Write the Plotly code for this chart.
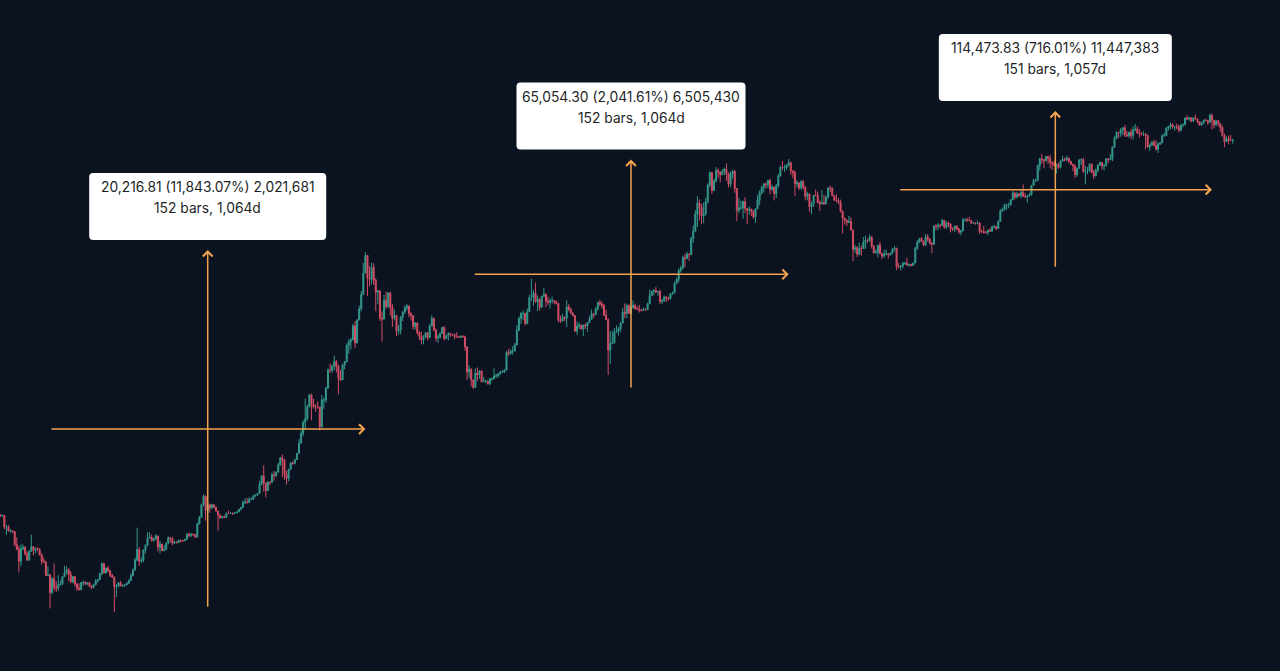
import numpy as np
import pandas as pd
import plotly.graph_objects as go

# Weekly BTC/USD bars, one row per week (Monday open): (close, high, low).
# Each week opens at the previous week's close.
FIRST_WEEK = "2014-07-28"
FIRST_OPEN = 594

BTC_2014 = [
    (587, 600, 575), (590, 595, 578), (505, 592, 490), (506, 520, 455), (478, 518, 475),
    (480, 490, 465), (475, 484, 465), (400, 476, 390), (375, 440, 370), (320, 390, 275),
    (378, 400, 300), (385, 400, 370), (353, 392, 345), (325, 365, 320),
    (365, 370, 320), (388, 455, 362), (370, 390, 345), (378, 385, 355),
    (375, 385, 365), (348, 380, 345), (320, 355, 305), (315, 335, 312), (264, 322, 262),
]
BTC_2015 = [
    (266, 298, 262), (210, 270, 170), (253, 258, 205), (226, 310, 215),
    (223, 245, 212), (234, 265, 215), (235, 248, 230), (260, 262, 234),
    (274, 300, 260), (285, 298, 268), (268, 291, 245), (242, 280, 238), (260, 262, 238),
    (236, 262, 228), (223, 238, 215), (219, 238, 216), (240, 242, 216),
    (240, 247, 230), (236, 245, 232), (240, 242, 232), (230, 241, 225),
    (225, 232, 220), (233, 236, 222), (244, 252, 233), (250, 252, 240), (270, 275, 250),
    (310, 315, 265), (274, 295, 270), (292, 293, 270), (281, 298, 276),
    (265, 285, 258), (258, 270, 255), (228, 260, 162), (229, 235, 198), (240, 242, 225),
    (230, 245, 228), (231, 235, 226), (233, 236, 226), (238, 241, 234),
    (247, 251, 236), (263, 272, 246), (284, 290, 262), (325, 335, 283),
    (374, 500, 320), (320, 385, 300), (323, 335, 312), (370, 375, 315), (395, 400, 355),
    (434, 470, 390), (440, 470, 435), (422, 455, 415), (430, 438, 415),
]
BTC_2016 = [
    (448, 460, 425), (385, 450, 365), (402, 420, 355), (368, 400, 365),
    (375, 395, 365), (407, 410, 370), (437, 445, 400), (432, 440, 410), (406, 440, 395),
    (413, 420, 402), (410, 418, 405), (424, 425, 408), (420, 425, 412),
    (420, 425, 415), (427, 432, 418), (458, 465, 425), (450, 468, 440),
    (459, 465, 442), (457, 461, 448), (441, 458, 436), (525, 535, 440), (575, 585, 525),
    (680, 690, 570), (760, 780, 665), (630, 770, 550), (680, 705, 610),
    (650, 690, 610), (680, 685, 645), (660, 680, 648), (625, 660, 620),
    (590, 625, 480), (570, 598, 565), (580, 585, 565), (573, 590, 570), (606, 612, 568),
    (605, 630, 598), (608, 612, 603), (603, 610, 593), (610, 612, 600),
    (617, 620, 607), (640, 643, 615), (655, 660, 630), (700, 720, 650), (705, 740, 685),
    (700, 745, 690), (730, 755, 700), (730, 745, 725), (765, 775, 725),
    (775, 778, 755), (790, 795, 765), (895, 935, 790), (1000, 1005, 880),
]
BTC_2017 = [
    (908, 1150, 810), (820, 910, 750), (920, 930, 820), (915, 925, 880), (1015, 1045, 910),
    (1000, 1065, 935), (1050, 1060, 985), (1155, 1190, 1050), (1270, 1290, 1150),
    (1230, 1330, 980), (1020, 1255, 950), (965, 1070, 890), (1090, 1100, 930),
    (1190, 1200, 1080), (1180, 1210, 1160), (1240, 1255, 1165), (1350, 1355, 1235),
    (1550, 1630, 1345), (1760, 1830, 1540), (2040, 2100, 1700), (2150, 2800, 1850), (2510, 2580, 2080),
    (2950, 2980, 2500), (2600, 3000, 2100), (2500, 2800, 2450), (2500, 2600, 2350),
    (2500, 2700, 2450), (1920, 2520, 1830), (2750, 2950, 1950), (2750, 2850, 2450), (3230, 3290, 2650),
    (4100, 4200, 3200), (4080, 4480, 3950), (4350, 4400, 3950), (4600, 4980, 4100),
    (4300, 4700, 3980), (3700, 4400, 2970), (3600, 4100, 3550), (4400, 4420, 3800),
    (4600, 4630, 4150), (5700, 5850, 4550), (6000, 6200, 5100), (6150, 6300, 5400), (7400, 7600, 6100),
    (5900, 7900, 5500), (8000, 8100, 5850), (9300, 9700, 8000), (11250, 11800, 9000),
    (15000, 17200, 11200), (19000, 19800, 15000), (14000, 19000, 11000), (13800, 16500, 12500),
]
BTC_2018 = [
    (16200, 17250, 12900), (13600, 17100, 12800), (11600, 14000, 9000), (11800, 12000, 9900), (8200, 11900, 7900),
    (8100, 9000, 6000), (10400, 11200, 8100), (9600, 11700, 9300), (11500, 11600, 9400),
    (9500, 11700, 8500), (8200, 9900, 7300), (8500, 9200, 8000), (6900, 8600, 6450),
    (7000, 7500, 6600), (8350, 8450, 6600), (8900, 9000, 7900), (9400, 9750, 8700), (9650, 9950, 9100),
    (8700, 9700, 8300), (8500, 8900, 7950), (7350, 8550, 7050), (7700, 7800, 7050),
    (6750, 7750, 6600), (6450, 6900, 6150), (6150, 6850, 5780), (6350, 6550, 5800),
    (6750, 6850, 6300), (6350, 6800, 6100), (7400, 7600, 6300), (8200, 8500, 7400), (7000, 8200, 6900),
    (6300, 7150, 6000), (6400, 6600, 5900), (6700, 6800, 6250), (7250, 7300, 6700),
    (6250, 7400, 6100), (6500, 6550, 6200), (6700, 6800, 6100), (6600, 6700, 6400),
    (6550, 6650, 6500), (6400, 6700, 6200), (6400, 6800, 6350), (6350, 6500, 6300), (6450, 6500, 6300),
    (6400, 6550, 6350), (5600, 6500, 5300), (4000, 5600, 3600), (4150, 4400, 3700),
    (3600, 4200, 3300), (3250, 3600, 3190), (3950, 4200, 3250), (3850, 4250, 3550),
]
BTC_2019 = [
    (4050, 4100, 3650),
    (3510, 4100, 3480), (3550, 3750, 3500), (3550, 3620, 3450), (3420, 3550, 3380),
    (3650, 3700, 3350), (3650, 3700, 3550), (3800, 4200, 3650), (3800, 3900, 3700),
    (3900, 3950, 3700), (4000, 4050, 3850), (4000, 4100, 3950), (4100, 4150, 3950),
    (5200, 5300, 4100), (5100, 5450, 4950), (5300, 5400, 5050), (5300, 5650, 5050), (5750, 5900, 5250),
    (7000, 7500, 5700), (8200, 8400, 6900), (8750, 8900, 7600), (8750, 9100, 8000),
    (7650, 8800, 7450), (8950, 9350, 7550), (10800, 11200, 8950), (10800, 13900, 10300),
    (11450, 12000, 9700), (10200, 13200, 10100), (10600, 11100, 9050), (9500, 10650, 9100), (11000, 11100, 9450),
    (11300, 12300, 10900), (10300, 11450, 9500), (10150, 10950, 9800), (10400, 10650, 9350),
    (10400, 10950, 10000), (10300, 10450, 9900), (10000, 10300, 9850), (8050, 10050, 7750), (7900, 8500, 7700),
    (8300, 8700, 7850), (8200, 8400, 7900), (9550, 10400, 7300), (9200, 9900, 9000),
    (8800, 9450, 8650), (8500, 8850, 8400), (6900, 8500, 6850), (7400, 7850, 6550),
    (7500, 7750, 7100), (7100, 7450, 7050), (7500, 7500, 6450), (7400, 7650, 7100),
]
BTC_2020 = [
    (7750, 7800, 6850),
    (8100, 8450, 7700), (8700, 9200, 8050), (8600, 8750, 8250), (9300, 9550, 8550),
    (10150, 10150, 9100), (9900, 10500, 9650), (9700, 10250, 9300), (8550, 9950, 8450),
    (8050, 9200, 8000), (5350, 8200, 3850), (5850, 6900, 4450), (5900, 6950, 5850), (6800, 7200, 5850),
    (6900, 7450, 6750), (7150, 7300, 6500), (7700, 7750, 6800), (8900, 9450, 7650),
    (8750, 10000, 8200), (9700, 9950, 8200), (8750, 9850, 8700), (9450, 9700, 8650),
    (9750, 10400, 9300), (9350, 9950, 9150), (9300, 9600, 9200), (9100, 9800, 8850), (9100, 9300, 8950),
    (9250, 9450, 9100), (9200, 9350, 9050), (9950, 10100, 9150), (11100, 12000, 9900),
    (11700, 11900, 11000), (11900, 12100, 11150), (11650, 12450, 11500), (11700, 11800, 11100), (10250, 12050, 9900),
    (10350, 10600, 9900), (10900, 11100, 10250), (10750, 10950, 10150), (10650, 10950, 10400),
    (11400, 11450, 10550), (11500, 11700, 11200), (13050, 13350, 11400), (13800, 14100, 12950),
    (15500, 15950, 13250), (16000, 16500, 15100), (18400, 18900, 15800), (18200, 19400, 16200), (19350, 19900, 18100),
    (19250, 19450, 17650), (23850, 24300, 19000), (26300, 28400, 22400), (33000, 34800, 26000),
]
BTC_2021 = [
    (38200, 41950, 27700), (36000, 40100, 30300), (32200, 37800, 28800), (33100, 38500, 29200),
    (38900, 41000, 32300), (48600, 49700, 38000), (57500, 58350, 47000), (45200, 57500, 43000),
    (51200, 52650, 45000), (59000, 61800, 50300), (57500, 60600, 53300), (55800, 58500, 50400), (58200, 60000, 55600),
    (60000, 61200, 55500), (56200, 64900, 51500), (49100, 57500, 47000), (56600, 58500, 47200),
    (58200, 59600, 53000), (46400, 59500, 43800), (34700, 46600, 30000), (35700, 40800, 33400), (35800, 39500, 35000),
    (39000, 39500, 31000), (35500, 41300, 33300), (34700, 35800, 28800), (35300, 36600, 32700),
    (34250, 35100, 32100), (31750, 34700, 31000), (35400, 35400, 29300), (39900, 42600, 35200),
    (43800, 45300, 37300), (47000, 48100, 42800), (49300, 49800, 43900), (48800, 50500, 46300), (51800, 51900, 46500),
    (46000, 52900, 43000), (47300, 48800, 44700), (43200, 47400, 39600), (48200, 49200, 40800),
    (54700, 56500, 46900), (61500, 62900, 54400), (61000, 67000, 59600), (61300, 63700, 58000),
    (63300, 64300, 59400), (65500, 68800, 62300), (58600, 66300, 55600), (57200, 59300, 53300), (49400, 59000, 42000),
    (50100, 51900, 47000), (46700, 50000, 45500), (50800, 51900, 45600), (47300, 52100, 45700),
]
BTC_2022 = [
    (41800, 47500, 39700), (43100, 44400, 39600), (36300, 43500, 34000), (37900, 38900, 32900), (42400, 42600, 36300),
    (42200, 45800, 41800), (38400, 44500, 38000), (37700, 39500, 34300), (38400, 45400, 37800),
    (37800, 42600, 37200), (41300, 42300, 37600), (46800, 46900, 40500), (46400, 48200, 44200),
    (42150, 47200, 41900), (39700, 42400, 39200), (39450, 42900, 38600), (38450, 40800, 37600),
    (34300, 40000, 33700), (31300, 34300, 25400), (30300, 31300, 28700), (29450, 30600, 28000), (29900, 32200, 29300),
    (26600, 31600, 26600), (20550, 26800, 17600), (21050, 21800, 19600), (19300, 21500, 18600),
    (20850, 22500, 19000), (20800, 21600, 18900), (22600, 24300, 20800), (23300, 24700, 20700),
    (23200, 23600, 22400), (24300, 25200, 22700), (21550, 24400, 20800), (19600, 21800, 19600), (19800, 20600, 19500),
    (21800, 21800, 18500), (19400, 22800, 19300), (18800, 19700, 18100), (19300, 20400, 18500),
    (19400, 20500, 19000), (19200, 19500, 18200), (19550, 19700, 18900), (20600, 21000, 19250), (20900, 21500, 20050),
    (16300, 21000, 15600), (16300, 17200, 15990), (16450, 16700, 15480), (17100, 17400, 16000),
    (17100, 17400, 16700), (16700, 18400, 16500), (16850, 17000, 16300), (16600, 16900, 16400),
]
BTC_2023 = [
    (17150, 17200, 16600), (20900, 21300, 17100), (22700, 23300, 20400), (23750, 23900, 22300), (22950, 24250, 22600),
    (21800, 23200, 21400), (24300, 25250, 21500), (23550, 25200, 22800), (22400, 23900, 21900),
    (22100, 22600, 19550), (28000, 28500, 21800), (27950, 28850, 26600), (28450, 29200, 26500),
    (28350, 28800, 27200), (30300, 31000, 28200), (27600, 30500, 27150), (29250, 30000, 26950),
    (28850, 29800, 27700), (26900, 29100, 25800), (26800, 27600, 26300), (28100, 28200, 25900), (27100, 28450, 26600),
    (25900, 27400, 25350), (26350, 26800, 24800), (30500, 31400, 26250), (30600, 31000, 29900),
    (30300, 31400, 29700), (30250, 31800, 29950), (29200, 30400, 29000), (29300, 29700, 29000), (29050, 29700, 28600),
    (29300, 30200, 28800), (26100, 29500, 25200), (26000, 26800, 25700), (25850, 28100, 25400),
    (25850, 26300, 25350), (26550, 26800, 24900), (26250, 27400, 26150), (27950, 28000, 26000),
    (27950, 28600, 27200), (27150, 28000, 26550), (29950, 30300, 27100), (34500, 35200, 29650), (35000, 35900, 33900),
    (37050, 37950, 34500), (37350, 37900, 34900), (37450, 38400, 35600), (39950, 40200, 36800),
    (43800, 45000, 39900), (41350, 43500, 40200), (43000, 44400, 40600), (42300, 43800, 41400),
]
BTC_2024 = [
    (43950, 45900, 40800), (41750, 49000, 41700), (41600, 43600, 40800), (42050, 42250, 38500), (42600, 43800, 41800),
    (48300, 48600, 42300), (51650, 52800, 48300), (51750, 52900, 50600), (63100, 64000, 50900),
    (68950, 70000, 59000), (68350, 73800, 64500), (67200, 68100, 60800), (71300, 71700, 66600),
    (69350, 71300, 64500), (65650, 72800, 60700), (64950, 66900, 59600), (63100, 67200, 62800), (64000, 64700, 56500),
    (61500, 65500, 60200), (66900, 67700, 60800), (68500, 71900, 66600), (67750, 70000, 66700),
    (69650, 71900, 68500), (66650, 70000, 65100), (64250, 67200, 63400), (62700, 63300, 58500),
    (55850, 63800, 53500), (60800, 61400, 54300), (68150, 68400, 60700), (68250, 69400, 63500), (58150, 70000, 57200),
    (58700, 62700, 49100), (58950, 61800, 56100), (64200, 65000, 57800), (57300, 64900, 57200),
    (54850, 59800, 52600), (59100, 60700, 54600), (63600, 64100, 57600), (65600, 66500, 62700), (62800, 65600, 59800),
    (62850, 64500, 58900), (69050, 69500, 62450), (68350, 69500, 65100), (68750, 73600, 67500),
    (80400, 81500, 66800), (90600, 93500, 80200), (98000, 99600, 89400), (97300, 98800, 90800),
    (101200, 104000, 92700), (104400, 105200, 94300), (95100, 108300, 92200), (93700, 99900, 92500),
]
BTC_2025 = [
    (98300, 98900, 91300),
    (94500, 102700, 89300), (101300, 106400, 89200), (102600, 109600, 99500), (97700, 106500, 96200),
    (96500, 102500, 91200), (96200, 98800, 94100), (96300, 99500, 93400), (94200, 96500, 78200),
    (80700, 95000, 80000), (82600, 84700, 76600), (86000, 87500, 82000), (82400, 88800, 81600), (78400, 88500, 77100),
    (83700, 86100, 74500), (85200, 86500, 83000), (93700, 95700, 85100), (94300, 97900, 92800),
    (104100, 104900, 93400), (106400, 106600, 100700), (109000, 111900, 102000), (105700, 110700, 103100),
    (105800, 106800, 100400), (105600, 110600, 102700), (100900, 108900, 98200), (108400, 108500, 99600), (109200, 110600, 105100),
    (119100, 119500, 107500), (117300, 123200, 115700), (119400, 120200, 114700), (114200, 119800, 112000),
    (119300, 119500, 112700), (117500, 124500, 116800), (113500, 117600, 110600), (108200, 113700, 107300),
    (111100, 113400, 107300), (115300, 116800, 110600), (115200, 117900, 114700), (112200, 115400, 108600), (123500, 125700, 111600),
    (115100, 126200, 102000), (108600, 116000, 103500), (114500, 115500, 106700), (110600, 116400, 106300),
    (104700, 110800, 98900), (94300, 107500, 93000), (86800, 96600, 80600), (90400, 93100, 86100),
    (88200, 94100, 83800), (88100, 94600, 87600), (88600, 90300, 84400),
]

# Date & price range measurements (start week, bar count, days, change, % change)
RANGE_START = ["2015-01-12", "2018-12-10", "2022-11-14"]
RANGE_BARS = [152, 152, 151]
RANGE_DAYS = [1064, 1064, 1057]
RANGE_CHANGE = [20216.81, 65054.30, 114473.83]
RANGE_PCT = [11843.07, 2041.61, 716.01]

# ---- styling ----
BG = "#0b1320"
UP = "#34988a"
DOWN = "#d24d65"
TOOL = "#f2a24e"
LABEL_TEXT = "#1c1f26"
BOX_WIDTHS = [237, 229, 233]
BOX_HEIGHT = 67
BOX_GAP = 10
X_RANGE = ["2014-07-27 08:00", "2026-05-23 10:00"]
Y_RANGE = [1.8677, 5.7599]  # log10 of price

rows = [r for year in (BTC_2014, BTC_2015, BTC_2016, BTC_2017, BTC_2018, BTC_2019, BTC_2020,
                       BTC_2021, BTC_2022, BTC_2023, BTC_2024, BTC_2025) for r in year]
close = np.array([r[0] for r in rows], dtype=float)
high = np.array([r[1] for r in rows], dtype=float)
low = np.array([r[2] for r in rows], dtype=float)
open_ = np.concatenate([[FIRST_OPEN], close[:-1]])
high = np.maximum.reduce([high, open_, close])
low = np.minimum.reduce([low, open_, close])
weeks = pd.date_range(FIRST_WEEK, periods=len(rows), freq="7D")

fig = go.Figure()
fig.add_trace(go.Candlestick(
    x=weeks, open=open_, high=high, low=low, close=close,
    increasing=dict(line=dict(color=UP, width=1), fillcolor=UP),
    decreasing=dict(line=dict(color=DOWN, width=1), fillcolor=DOWN),
    whiskerwidth=0, showlegend=False, name="BTCUSD",
))


def fmt(v, nd=2):
    return f"{v:,.{nd}f}"


def ypaper(price):
    return (np.log10(price) - Y_RANGE[0]) / (Y_RANGE[1] - Y_RANGE[0])


annotations = []
shapes = []
for i, start in enumerate(RANGE_START):
    t0 = pd.Timestamp(start)
    t1 = t0 + pd.Timedelta(days=RANGE_DAYS[i])
    tmid = t0 + pd.Timedelta(days=RANGE_DAYS[i] / 2)
    p0 = RANGE_CHANGE[i] / (RANGE_PCT[i] / 100.0)
    p1 = p0 + RANGE_CHANGE[i]
    lmid = (np.log10(p0) + np.log10(p1)) / 2

    arrow = dict(text="", showarrow=True, arrowhead=4, arrowsize=1.25, arrowwidth=1.5,
                 arrowcolor=TOOL, axref="x", ayref="y", xref="x", yref="y", standoff=0)
    # time span arrow
    annotations.append(dict(arrow, x=t1, y=lmid, ax=t0, ay=lmid))
    # price span arrow
    annotations.append(dict(arrow, x=tmid, y=np.log10(p1), ax=tmid, ay=np.log10(p0)))

    # label card
    w, h, r = BOX_WIDTHS[i], BOX_HEIGHT, 4
    x0, x1, y0, y1 = -w / 2, w / 2, BOX_GAP, BOX_GAP + h
    path = (f"M{x0 + r},{y0} L{x1 - r},{y0} Q{x1},{y0} {x1},{y0 + r} "
            f"L{x1},{y1 - r} Q{x1},{y1} {x1 - r},{y1} L{x0 + r},{y1} "
            f"Q{x0},{y1} {x0},{y1 - r} L{x0},{y0 + r} Q{x0},{y0} {x0 + r},{y0} Z")
    shapes.append(dict(type="path", xref="x", yref="paper",
                       xsizemode="pixel", ysizemode="pixel",
                       xanchor=tmid.strftime("%Y-%m-%d %H:%M"), yanchor=ypaper(p1),
                       path=path, fillcolor="#ffffff", line=dict(width=0), layer="above"))

    line1 = (f"{fmt(RANGE_CHANGE[i])} ({fmt(RANGE_PCT[i])}%) "
             f"{fmt(RANGE_CHANGE[i] * 100, 0)}")
    line2 = f"{RANGE_BARS[i]} bars, {RANGE_DAYS[i]:,}d"
    for txt, dy in ((line1, BOX_GAP + h - 14), (line2, BOX_GAP + h - 35)):
        annotations.append(dict(text=txt, x=tmid, y=np.log10(p1), xref="x", yref="y",
                                showarrow=False, yshift=dy, xanchor="center", yanchor="middle",
                                font=dict(family="Inter, Roboto, sans-serif", size=13.8,
                                          color=LABEL_TEXT)))

fig.update_layout(
    width=1280, height=671,
    margin=dict(l=0, r=0, t=0, b=0),
    paper_bgcolor=BG, plot_bgcolor=BG,
    showlegend=False,
    xaxis=dict(type="date", range=X_RANGE, visible=False, showgrid=False,
               rangeslider=dict(visible=False), fixedrange=True),
    yaxis=dict(type="log", range=Y_RANGE, visible=False, showgrid=False, fixedrange=True),
    annotations=annotations,
    shapes=shapes,
    hovermode=False,
)

fig.write_html("out.html", config={"displayModeBar": False})
